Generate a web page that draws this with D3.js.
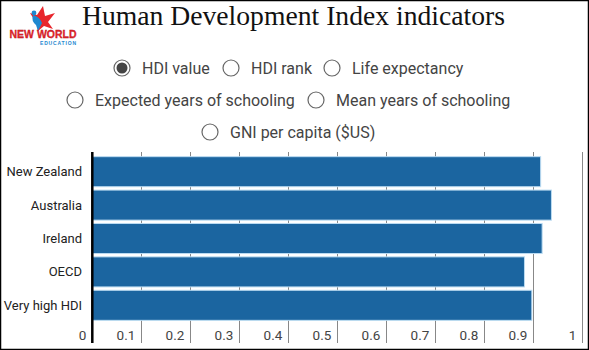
<!DOCTYPE html>
<html>
<head>
<meta charset="utf-8">
<script src="https://cdn.jsdelivr.net/npm/d3@7/dist/d3.min.js"></script>
<style>
  html, body { margin: 0; padding: 0; background: #fff; }
  svg { display: block; }
</style>
</head>
<body>
<div id="chart"></div>
<script>
const categories = ["New Zealand", "Australia", "Ireland", "OECD", "Very high HDI"];
const hdiValues = [0.915, 0.937, 0.918, 0.882, 0.897];
const tickValues = [0, 0.1, 0.2, 0.3, 0.4, 0.5, 0.6, 0.7, 0.8, 0.9, 1];
const tickLabels = ["0", "0.1", "0.2", "0.3", "0.4", "0.5", "0.6", "0.7", "0.8", "0.9", "1"];
const optionRows = [
  ["HDI value", "HDI rank", "Life expectancy"],
  ["Expected years of schooling", "Mean years of schooling"],
  ["GNI per capita ($US)"]
];
const selectedOption = "HDI value";
const titleText = "Human Development Index indicators";

const W = 589, H = 350;
const svg = d3.select("#chart").append("svg").attr("width", W).attr("height", H);

// border
svg.append("rect").attr("x", 0.5).attr("y", 0.5).attr("width", W - 1).attr("height", H - 1)
  .attr("fill", "#fff").attr("stroke", "#000").attr("stroke-width", 1.5);

// title
svg.append("text").attr("x", 82).attr("y", 25)
  .attr("font-family", "'Liberation Serif', 'Times New Roman', serif")
  .attr("font-size", 28).attr("fill", "#111")
  .attr("textLength", 423).attr("lengthAdjust", "spacingAndGlyphs").text(titleText);

// logo
const logo = svg.append("g");
logo.append("path").attr("d", "M30,13 L37,15 L43,6 L45,16 L55,13 L48,22 L53,29 L44,26 L38,31 L37,24 Z")
  .attr("fill", "#e8262c");
logo.append("path").attr("d", "M33,15 Q40,17 42,23 L38,31 L36,25 Q31,21 33,15 Z").attr("fill", "#1e88d0");
logo.append("circle").attr("cx", 34).attr("cy", 13).attr("r", 2.4).attr("fill", "#1e88d0");
logo.append("text").attr("x", 43).attr("y", 38).attr("text-anchor", "middle")
  .attr("font-family", "'Liberation Sans', Arial, sans-serif").attr("font-weight", "bold")
  .attr("font-size", 11).attr("fill", "#e8262c").attr("stroke", "#b01018").attr("stroke-width", 0.3)
  .attr("textLength", 67).attr("lengthAdjust", "spacingAndGlyphs").text("NEW WORLD");
logo.append("text").attr("x", 58).attr("y", 45).attr("text-anchor", "middle")
  .attr("font-family", "'Liberation Sans', Arial, sans-serif").attr("font-weight", "bold")
  .attr("font-size", 5).attr("fill", "#1e88d0").attr("textLength", 36).text("EDUCATION");

// radio options
const rowY = [68, 100, 132];
const rowCircleX = [[122, 231, 332], [75, 316], [210]];
optionRows.forEach((row, ri) => {
  row.forEach((label, ci) => {
    const g = svg.append("g").attr("transform", `translate(${rowCircleX[ri][ci]},${rowY[ri]})`);
    g.append("circle").attr("r", 8).attr("fill", "#fff").attr("stroke", "#666").attr("stroke-width", 1.2);
    if (label === selectedOption) {
      g.append("circle").attr("r", 5.5).attr("fill", "#444");
    }
    g.append("text").attr("x", 20).attr("y", 5.5)
      .attr("font-family", "Roboto, sans-serif").attr("font-size", 16).attr("fill", "#444").text(label);
  });
});

// scales
const x = d3.scaleLinear().domain([0, 1]).range([92.3, 582.3]);
const y = d3.scaleBand().domain(categories).range([155, 322]).paddingInner(0.1).paddingOuter(0.05);

// gridlines
const gridTop = 152, gridBottom = 343;
svg.append("g").selectAll("line").data(tickValues.filter(d => d > 0)).join("line")
  .attr("x1", d => x(d)).attr("x2", d => x(d)).attr("y1", gridTop).attr("y2", gridBottom)
  .attr("stroke", "#888").attr("stroke-width", 1).attr("shape-rendering", "crispEdges");

// bars
svg.append("g").selectAll("rect").data(categories).join("rect")
  .attr("x", x(0)).attr("y", d => y(d))
  .attr("width", (d, i) => x(hdiValues[i]) - x(0)).attr("height", y.bandwidth())
  .attr("fill", "#1b65a0").attr("stroke", "#bcdcf2").attr("stroke-width", 1);

// zero axis line
svg.append("line").attr("x1", x(0)).attr("x2", x(0)).attr("y1", gridTop).attr("y2", gridBottom)
  .attr("stroke", "#000").attr("stroke-width", 2.5);

// category labels
svg.append("g").selectAll("text").data(categories).join("text")
  .attr("x", 82).attr("y", d => y(d) + y.bandwidth() / 2 + 4.5).attr("text-anchor", "end")
  .attr("font-family", "Roboto, sans-serif").attr("font-size", 13).attr("fill", "#222").text(d => d);

// tick labels
svg.append("g").selectAll("text").data(tickValues).join("text")
  .attr("x", d => x(d) - 6).attr("y", 340).attr("text-anchor", "end")
  .attr("font-family", "Roboto, sans-serif").attr("font-size", 13.5).attr("fill", "#444")
  .text((d, i) => tickLabels[i]);
</script>
</body>
</html>
